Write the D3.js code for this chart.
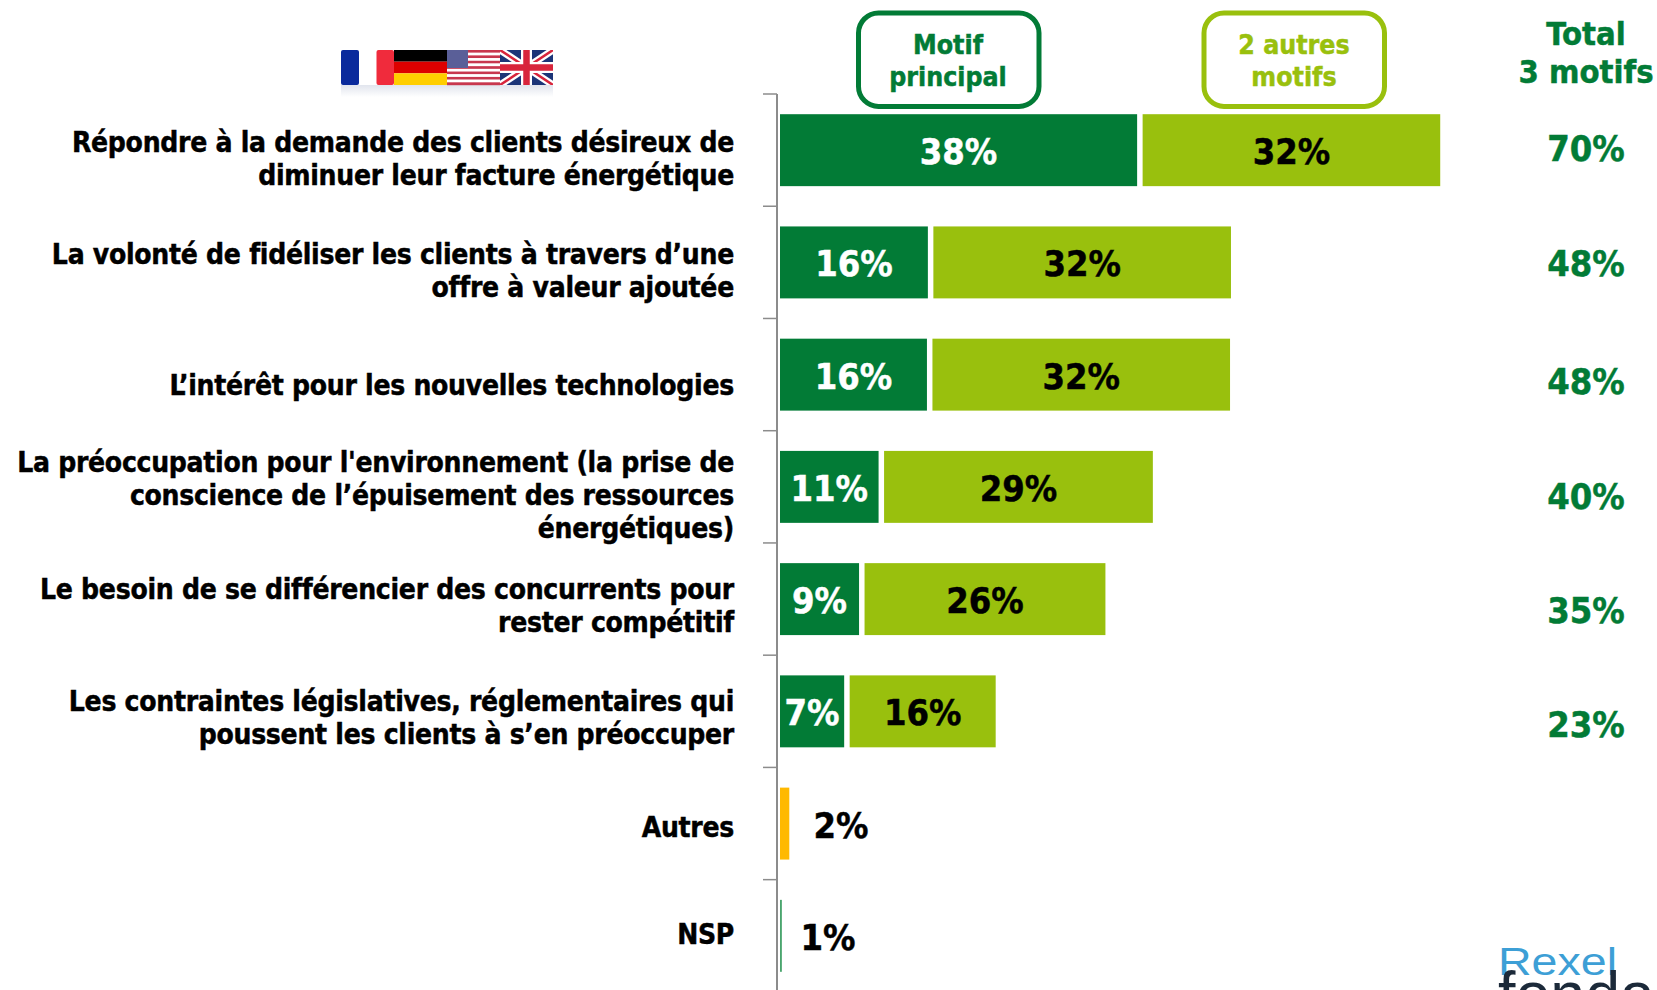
<!DOCTYPE html>
<html>
<head>
<meta charset="utf-8">
<script src="https://cdn.jsdelivr.net/npm/d3@7"></script>
<style>
	html, body { margin: 0; padding: 0; background: #fff; }
	svg { display: block; }
	text { font-family: "DejaVu Sans", Verdana, sans-serif; font-weight: bold; font-stretch: condensed; }
</style>
</head>
<body>
<div id="graphicContainer"></div>
<script>
var categories = [
	["Répondre à la demande des clients désireux de", "diminuer leur facture énergétique"],
	["La volonté de fidéliser les clients à travers d’une", "offre à valeur ajoutée"],
	["L’intérêt pour les nouvelles technologies"],
	["La préoccupation pour l'environnement (la prise de", "conscience de l’épuisement des ressources", "énergétiques)"],
	["Le besoin de se différencier des concurrents pour", "rester compétitif"],
	["Les contraintes législatives, réglementaires qui", "poussent les clients à s’en préoccuper"],
	["Autres"],
	["NSP"]
]

// bar lengths as measured on the picture, the printed labels are rounded
var motifPrincipal = [38.4, 15.9, 15.8, 10.6, 8.5, 6.9, 0, 0]
var autresMotifs = [32, 32, 32, 28.9, 25.9, 15.7, 0, 0]
var autres = [0, 0, 0, 0, 0, 0, 1, 0]
var nsp = [0, 0, 0, 0, 0, 0, 0, 0.2]

var motifLabels = ["38%", "16%", "16%", "11%", "9%", "7%", "2%", "1%"]
var autresLabels = ["32%", "32%", "32%", "29%", "26%", "16%"]
var totalLabels = ["70%", "48%", "48%", "40%", "35%", "23%"]

var dark = "#027B36"
var light = "#99C00D"
var orange = "#FFB900"

var width = 1657
var height = 990

var svg = d3.select("#graphicContainer").append("svg")
	.attr("width", width)
	.attr("height", height)

var x = d3.scaleLinear().domain([0, 100]).range([780, 1710])

var y = d3.scaleBand()
	.domain(d3.range(categories.length))
	.range([94, 992])
	.paddingInner(0.359)
	.paddingOuter(0.18)

var gap = 5.5

// axis down the left of the bars, one tick between each row
var step = y.step()
var axisX = 777

svg.append("line")
	.attr("x1", axisX).attr("x2", axisX)
	.attr("y1", 94).attr("y2", 990)
	.attr("stroke", "#8c8c8c").attr("stroke-width", 2)

svg.selectAll(".tick")
	.data(d3.range(categories.length))
	.enter()
	.append("line")
	.attr("class", "tick")
	.attr("x1", axisX - 14).attr("x2", axisX)
	.attr("y1", d => 94 + d * step)
	.attr("y2", d => 94 + d * step)
	.attr("stroke", "#8c8c8c").attr("stroke-width", 1.5)

// row labels, each text box sits a little differently in its row
var lineHeight = 33
var labelOffset = [18.4, 18, 20.5, 18.6, 16.6, 16.6, 13.2, 8]
var labels = svg.selectAll(".label")
	.data(categories)
	.enter()
	.append("text")
	.attr("class", "label")
	.attr("text-anchor", "end")
	.attr("font-size", 28)
	.attr("letter-spacing", -0.28)
	.attr("fill", "#000")

labels.each(function(d, i) {
	var mid = y(i) + y.bandwidth() / 2
	var top = mid - (d.length - 1) * lineHeight / 2 + labelOffset[i]
	d3.select(this).selectAll("tspan")
		.data(d)
		.enter()
		.append("tspan")
		.attr("x", 734)
		.attr("y", (t, j) => top + j * lineHeight)
		.text(t => t)
})

// dark bars
svg.selectAll(".motif")
	.data(motifPrincipal)
	.enter()
	.append("rect")
	.attr("class", "motif")
	.attr("x", x(0))
	.attr("y", (d, i) => y(i))
	.attr("width", d => x(d) - x(0))
	.attr("height", y.bandwidth())
	.attr("fill", dark)

// light bars
svg.selectAll(".autres")
	.data(autresMotifs)
	.enter()
	.append("rect")
	.attr("class", "autres")
	.attr("x", (d, i) => x(motifPrincipal[i]) + gap)
	.attr("y", (d, i) => y(i))
	.attr("width", d => x(d) - x(0))
	.attr("height", y.bandwidth())
	.attr("fill", light)

svg.selectAll(".other")
	.data(autres)
	.enter()
	.append("rect")
	.attr("class", "other")
	.attr("x", x(0))
	.attr("y", (d, i) => y(i))
	.attr("width", d => x(d) - x(0))
	.attr("height", y.bandwidth())
	.attr("fill", orange)

svg.selectAll(".nsp")
	.data(nsp)
	.enter()
	.append("rect")
	.attr("class", "nsp")
	.attr("x", x(0))
	.attr("y", (d, i) => y(i))
	.attr("width", d => x(d) - x(0))
	.attr("height", y.bandwidth())
	.attr("fill", "#4aa56e")

// value labels
var valueSize = 36
svg.selectAll(".motifLabel")
	.data(motifLabels.slice(0, 6))
	.enter()
	.append("text")
	.attr("class", "motifLabel")
	.attr("text-anchor", "middle")
	.attr("font-size", valueSize)
	.attr("fill", "#fff")
	.attr("x", (d, i) => (x(0) + x(motifPrincipal[i])) / 2)
	.attr("y", (d, i) => y(i) + y.bandwidth() / 2 + 14)
	.text(d => d)

svg.selectAll(".autresLabel")
	.data(autresLabels)
	.enter()
	.append("text")
	.attr("class", "autresLabel")
	.attr("text-anchor", "middle")
	.attr("font-size", valueSize)
	.attr("fill", "#000")
	.attr("x", (d, i) => x(motifPrincipal[i]) + gap + (x(autresMotifs[i]) - x(0)) / 2)
	.attr("y", (d, i) => y(i) + y.bandwidth() / 2 + 14)
	.text(d => d)

// the two labels beside the thin bars
svg.append("text")
	.attr("text-anchor", "middle").attr("font-size", valueSize).attr("fill", "#000")
	.attr("x", 841).attr("y", y(6) + y.bandwidth() / 2 + 14)
	.text(motifLabels[6])

svg.append("text")
	.attr("text-anchor", "middle").attr("font-size", valueSize).attr("fill", "#000")
	.attr("x", 828).attr("y", y(7) + y.bandwidth() / 2 + 14.5)
	.text(motifLabels[7])

// totals on the right
var totalOffset = [11, 14, 19, 22, 23.5, 25.5]
svg.selectAll(".total")
	.data(totalLabels)
	.enter()
	.append("text")
	.attr("class", "total")
	.attr("text-anchor", "middle")
	.attr("font-size", valueSize)
	.attr("fill", dark)
	.attr("x", 1586)
	.attr("y", (d, i) => y(i) + y.bandwidth() / 2 + totalOffset[i])
	.text(d => d)

// legend boxes
var legend = [
	{ x: 858.5, w: 180.5, color: dark, lines: ["Motif", "principal"], cx: 948 },
	{ x: 1204, w: 180.5, color: light, lines: ["2 autres", "motifs"], cx: 1294 }
]

legend.forEach(function(l) {
	svg.append("rect")
		.attr("x", l.x).attr("y", 13)
		.attr("width", l.w).attr("height", 93.4)
		.attr("rx", 20)
		.attr("fill", "#fff")
		.attr("stroke", l.color)
		.attr("stroke-width", 5)
	l.lines.forEach(function(t, j) {
		svg.append("text")
			.attr("text-anchor", "middle")
			.attr("font-size", 26.5)
			.attr("fill", l.color)
			.attr("x", l.cx)
			.attr("y", 54 + j * 32)
			.text(t)
	})
})

svg.append("text")
	.attr("text-anchor", "middle").attr("font-size", 32.5).attr("fill", dark)
	.attr("x", 1586).attr("y", 45).text("Total")
svg.append("text")
	.attr("text-anchor", "middle").attr("font-size", 32.5).attr("fill", dark)
	.attr("x", 1586).attr("y", 83).text("3 motifs")

// Tahoma bold is heavier than the condensed DejaVu, so thicken a little
svg.selectAll("text")
	.attr("stroke", function() { return d3.select(this).attr("fill") })
	.attr("stroke-width", 0.45)

// flags
var flagGroup = svg.append("g")

var flagShadow = svg.append("defs").append("linearGradient")
	.attr("id", "flagShadow")
	.attr("x1", "0%").attr("y1", "0%")
	.attr("x2", "0%").attr("y2", "100%")
flagShadow.append("stop").attr("offset", "0%").attr("stop-color", "#aab4cc").attr("stop-opacity", 0.35)
flagShadow.append("stop").attr("offset", "100%").attr("stop-color", "#aab4cc").attr("stop-opacity", 0)

flagGroup.append("rect")
	.attr("x", 341).attr("y", 85)
	.attr("width", 212).attr("height", 12)
	.attr("fill", "url(#flagShadow)")

var flagTop = 50
var flagH = 35

// France
flagGroup.append("rect").attr("x", 341).attr("y", flagTop).attr("width", 18).attr("height", flagH).attr("rx", 2).attr("fill", "#0a2a9c")
flagGroup.append("rect").attr("x", 359).attr("y", flagTop).attr("width", 18).attr("height", flagH).attr("fill", "#fff")
flagGroup.append("rect").attr("x", 376.5).attr("y", flagTop).attr("width", 17.5).attr("height", flagH).attr("rx", 2).attr("fill", "#f02b3c")

// Germany
flagGroup.append("rect").attr("x", 394).attr("y", flagTop).attr("width", 53).attr("height", flagH / 3).attr("fill", "#000")
flagGroup.append("rect").attr("x", 394).attr("y", flagTop + flagH / 3).attr("width", 53).attr("height", flagH / 3).attr("fill", "#dd0000")
flagGroup.append("rect").attr("x", 394).attr("y", flagTop + 2 * flagH / 3).attr("width", 53).attr("height", flagH / 3).attr("fill", "#ffce00")

// USA
d3.range(13).forEach(function(i) {
	flagGroup.append("rect")
		.attr("x", 447).attr("y", flagTop + i * flagH / 13)
		.attr("width", 53).attr("height", flagH / 13 + 0.2)
		.attr("fill", i % 2 == 0 ? "#c8374e" : "#fff")
})
flagGroup.append("rect").attr("x", 447).attr("y", flagTop).attr("width", 21).attr("height", 18).attr("fill", "#5a5f98")

// UK
var ukClip = svg.select("defs").append("clipPath").attr("id", "ukClip")
ukClip.append("rect").attr("x", 500).attr("y", flagTop).attr("width", 53).attr("height", flagH)
var uk = flagGroup.append("g").attr("clip-path", "url(#ukClip)")
uk.append("rect").attr("x", 500).attr("y", flagTop).attr("width", 53).attr("height", flagH).attr("fill", "#1c3578")
uk.append("path").attr("d", `M500,${flagTop}L553,${flagTop + flagH}M553,${flagTop}L500,${flagTop + flagH}`).attr("stroke", "#fff").attr("stroke-width", 7)
uk.append("path").attr("d", `M500,${flagTop}L553,${flagTop + flagH}M553,${flagTop}L500,${flagTop + flagH}`).attr("stroke", "#d8253c").attr("stroke-width", 2.5)
uk.append("path").attr("d", `M526.5,${flagTop}V${flagTop + flagH}M500,${flagTop + flagH / 2}H553`).attr("stroke", "#fff").attr("stroke-width", 11)
uk.append("path").attr("d", `M526.5,${flagTop}V${flagTop + flagH}M500,${flagTop + flagH / 2}H553`).attr("stroke", "#d8253c").attr("stroke-width", 6.5)

// logo, cut off by the bottom of the page
svg.append("text")
	.attr("x", 1498).attr("y", 975)
	.attr("font-size", 38)
	.attr("textLength", 119)
	.attr("lengthAdjust", "spacingAndGlyphs")
	.style("font-family", "'Liberation Sans', sans-serif")
	.style("font-weight", "normal")
	.style("font-stretch", "normal")
	.attr("fill", "#3d9fd6")
	.text("Rexel")

svg.append("text")
	.attr("x", 1498).attr("y", 1017)
	.attr("font-size", 64)
	.attr("textLength", 157)
	.attr("lengthAdjust", "spacingAndGlyphs")
	.style("font-family", "'Liberation Sans', sans-serif")
	.style("font-weight", "normal")
	.style("font-stretch", "normal")
	.attr("fill", "#1c2a3a")
	.text("fonda")
</script>
</body>
</html>
